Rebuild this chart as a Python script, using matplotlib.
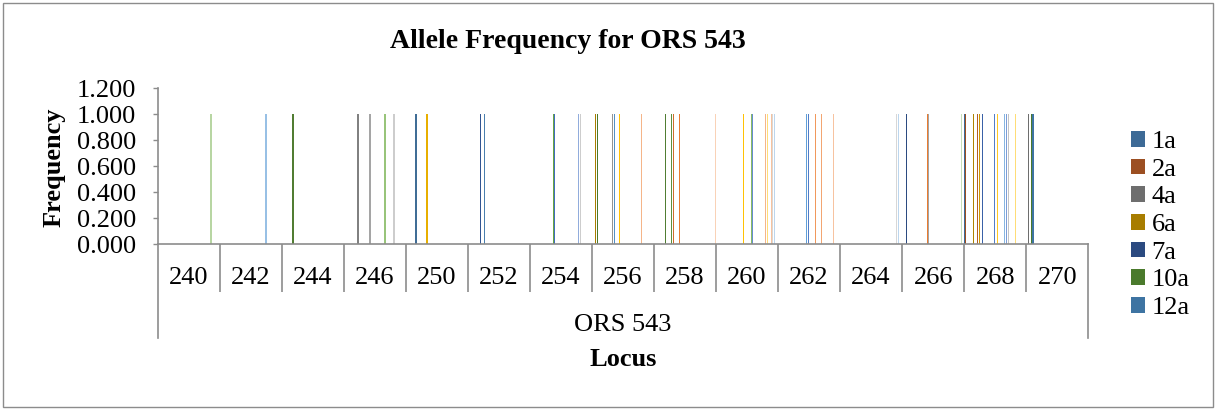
import numpy as np
import matplotlib.pyplot as plt
from matplotlib.colors import to_rgb
from matplotlib.patches import Rectangle

plt.rcParams['font.family'] = ['Liberation Serif', 'DejaVu Serif']

title = "Allele Frequency for ORS 543"
locus = "ORS 543"
alleles = ["240", "242", "244", "246", "250", "252", "254", "256",
           "258", "260", "262", "264", "266", "268", "270"]

# sample columns in sheet order (only the first seven fit in the legend)
sample_ids = [1, 2, 4, 6, 7, 10, 12, 13, 15, 16, 18, 19, 21, 22, 24, 25,
              27, 28, 30, 31, 33, 34, 36, 37, 39, 40, 42, 43, 45, 46, 48, 49,
              51, 52, 54, 55, 57, 58, 60, 61, 63, 64, 66, 67, 69, 70, 72, 73,
              75, 76, 78, 79, 81, 82, 84, 85, 87, 88, 90, 91, 93, 94]
samples = [f"{s}a" for s in sample_ids]

# allele -> sample columns scored with frequency 1.000
called = {
    "240": [53],
    "242": [46],
    "244": [11],
    "246": [14, 26, 41, 50],
    "250": [10, 21],
    "252": [12, 16],
    "254": [23, 24, 48, 50],
    "256": [3, 5, 20, 22, 27, 49],
    "258": [11, 17, 19, 25, 61],
    "260": [27, 35, 36, 49, 51, 55, 56, 58],
    "262": [28, 30, 37, 43, 55],
    "264": [56, 58],
    "266": [4, 25, 26, 59],
    "268": [0, 1, 9, 13, 15, 18, 30, 33, 40, 42, 44, 51],
    "270": [2, 5, 6],
}

freq = np.zeros((len(samples), len(alleles)))
for j, a in enumerate(alleles):
    for i in called[a]:
        freq[i, j] = 1.0

# colours: legend entries first, then the office cycle darkening -> fading
first_cols = ["#3D6A96", "#9C4F22", "#6E6E6E", "#A87D00", "#2B4A80", "#4A7A2C", "#3E74A2"]
cycle = ["#4472C4", "#ED7D31", "#A5A5A5", "#FFC000", "#5B9BD5", "#70AD47"]


def shade(c, f):
    c = np.array(to_rgb(c))
    if f < 0:
        return tuple(c * (1 + f))
    return tuple(c + (1 - c) * f)


n = len(samples)
colors = list(first_cols)
for i in range(len(first_cols), n):
    f = -0.35 + 1.0 * (i - 7) / (n - 8)
    colors.append(shade(cycle[i % 6], f))

W, H = 1223, 412
fig = plt.figure(figsize=(W / 100, H / 100), dpi=100)
ax_l, ax_r, ax_t, ax_b = 157.5, 1088.3, 88.3, 244.3
ax = fig.add_axes([ax_l / W, 1 - ax_b / H, (ax_r - ax_l) / W, (ax_b - ax_t) / H])

x = np.arange(len(alleles))
slot = 1.0 / n
bars = []
for i in range(n):
    b = ax.bar(x + (i + 0.5) * slot, freq[i], width=slot * 1.5,
               color=colors[i], linewidth=0, label=samples[i])
    bars.append(b)

grey = "#8C8C8C"
ax.set_xlim(0, len(alleles))
ax.set_ylim(0, 1.2)
for s in ["top", "right"]:
    ax.spines[s].set_visible(False)
for s in ["left", "bottom"]:
    ax.spines[s].set_color(grey)
    ax.spines[s].set_linewidth(1.2)

yt = np.arange(0, 1.21, 0.2)
ax.set_yticks(yt)
ax.set_yticklabels([f"{v:.3f}" for v in yt])
ax.tick_params(axis="y", length=3.6, width=1.0, color=grey, pad=12,
               labelsize=19, direction="out")

# category labels sit between separator lines
ax.set_xticks(x + 0.5)
ax.set_xticklabels(alleles)
ax.set_xticks(np.arange(1, len(alleles)), minor=True)
ax.tick_params(axis="x", which="major", length=0, pad=16, labelsize=19)
ax.tick_params(axis="x", which="minor", length=34.5, width=1.2, color=grey,
               direction="out")

# outer group box for the locus
ah = ax_b - ax_t
xt = ax.get_xaxis_transform()
for xe in [0, len(alleles)]:
    ax.plot([xe, xe], [0, -93.7 / ah], transform=xt, color=grey,
            lw=1.2, clip_on=False)

ax.text(len(alleles) / 2, -(325 - ax_b) / ah, locus, transform=xt,
        ha="center", va="center", fontsize=19)
ax.text(len(alleles) / 2, -(360 - ax_b) / ah, "Locus", transform=xt,
        ha="center", va="center", fontsize=19, fontweight="bold")

fig.text(54 / W, 1 - 167 / H, "Frequency", rotation=90, ha="center",
         va="center", fontsize=19, fontweight="bold")
fig.text(568 / W, 1 - 42 / H, title, ha="center", va="center",
         fontsize=20, fontweight="bold")

handles = [bars[i].patches[0] for i in range(7)]
fig.legend(handles, samples[:7], loc="upper left",
           bbox_to_anchor=(1131 / W, 1 - 131 / H), frameon=False,
           fontsize=19, handlelength=0.53, handleheight=0.53,
           handletextpad=0.25, labelspacing=0.21, borderpad=0,
           borderaxespad=0)

fig.add_artist(Rectangle((3.3 / W, 1 - 406.7 / H), (1213 - 3.3) / W,
                         (406.7 - 3) / H, transform=fig.transFigure,
                         fill=False, edgecolor=grey, linewidth=1.0))

fig.savefig("out.png", dpi=100)
